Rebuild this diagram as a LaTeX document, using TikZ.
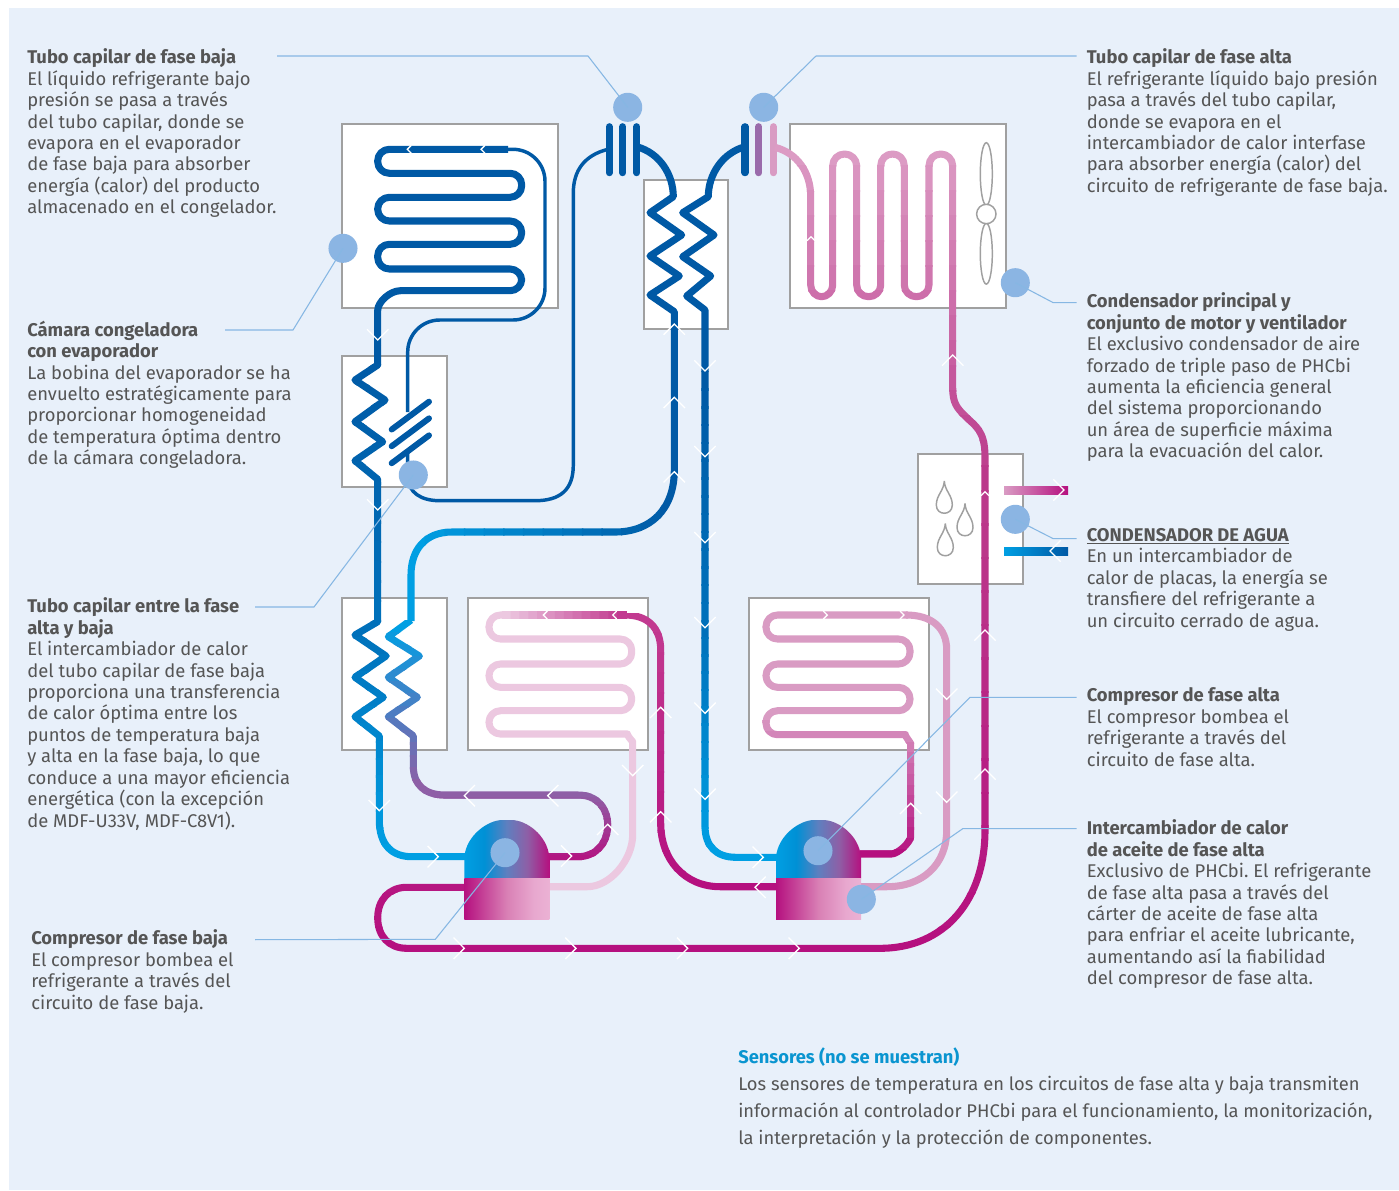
\documentclass[tikz,border=0pt]{standalone}
\usepackage{fontspec}
\setmainfont{Fira Sans}
\usetikzlibrary{calc}

\definecolor{bgblue}{HTML}{E8F0FA}
\definecolor{boxgray}{HTML}{A0A0A0}
\definecolor{txtgray}{HTML}{555555}
\definecolor{dotblue}{HTML}{8BB5E3}
\definecolor{leadblue}{HTML}{86B7E3}
\definecolor{darkblue}{HTML}{0059A5}
\definecolor{midblue}{HTML}{0070BA}
\definecolor{cyanblue}{HTML}{009FE3}
\definecolor{domeb}{HTML}{0090D5}
\definecolor{domem}{HTML}{5F7FBF}
\definecolor{purp}{HTML}{8E5FA6}
\definecolor{barpurp}{HTML}{9A6BAB}
\definecolor{magen}{HTML}{B5107F}
\definecolor{magmid}{HTML}{C23A90}
\definecolor{magcond}{HTML}{BB3A8B}
\definecolor{pinkmid}{HTML}{D99BC3}
\definecolor{pinktop}{HTML}{DC9BC4}
\definecolor{pinkpale}{HTML}{ECC8E0}
\definecolor{sumpa}{HTML}{D980B5}
\definecolor{sumpb}{HTML}{E8A8CF}
\definecolor{sumpc}{HTML}{EBB2D4}
\definecolor{headblue}{HTML}{0A95D0}

\pgfdeclarehorizontalshading{domeshade}{100bp}{color(0bp)=(cyanblue); color(25bp)=(cyanblue);
 color(37bp)=(domeb); color(50bp)=(domem); color(62bp)=(purp); color(75bp)=(magen); color(100bp)=(magen)}
\pgfdeclarehorizontalshading{sumpshade}{100bp}{color(0bp)=(magen); color(25bp)=(magen);
 color(50bp)=(sumpa); color(66bp)=(sumpb); color(75bp)=(sumpc); color(100bp)=(sumpc)}

\tikzset{
  pipe/.style={line width=5.3pt,line join=round},
  thinpipe/.style={line width=2.6pt,line join=round,darkblue},
  capbar/.style={line width=5.3pt,line cap=round},
  unitbox/.style={draw=boxgray,fill=white,line width=1.5pt},
  fanline/.style={draw=boxgray,line width=1.1pt},
  chevron/.style={draw=white,line width=1pt},
  dotmark/.style={circle,fill=dotblue,minimum size=21.8pt,inner sep=0pt},
  leader/.style={draw=leadblue,line width=0.8pt},
  txtblock/.style={anchor=north west,inner sep=0pt,align=left,text=txtgray,
    font=\fontsize{13.8}{16.08}\selectfont\frenchspacing},
}

\newcommand{\vpipe}[6][pipe]{%
\foreach \i in {1,...,14}{%
\pgfmathsetmacro{\m}{100-100*(\i-1)/13}
\begin{scope}
\clip (0,{#2+(#3-#2)*(\i-1)/14}) rectangle (1399,{#2+(#3-#2)*\i/14+1.5});
\draw[#1,#4!\m!#5] #6;
\end{scope}}}
\newcommand{\hpipe}[6][pipe]{%
\foreach \i in {1,...,14}{%
\pgfmathsetmacro{\m}{100-100*(\i-1)/13}
\begin{scope}
\clip ({#2+(#3-#2)*(\i-1)/14},0) rectangle ({#2+(#3-#2)*\i/14+1.5},1190);
\draw[#1,#4!\m!#5] #6;
\end{scope}}}
\newcommand{\chev}[4][10.7]{%
\draw[chevron,shift={(#2,#3)},rotate=#4] (-#1,-#1) -- (0,0) -- (-#1,#1);
}
\newcommand{\drawdrop}[2]{%
\draw[fanline,shift={(#1,#2)}] (0,0) .. controls (0.5,10) and (8,14) .. (8,24) .. controls (8,35) and (-8,35) .. (-8,24) .. controls (-8,14) and (-0.5,10) .. (0,0);
}
\newcommand{\compbody}[1]{%
\shade[shading=domeshade,shift={(#1,0)}] (0,878.3) -- (0,857) .. controls (2,835) and (24,820) .. (38,820) -- (47,820) .. controls (62,820) and (83,835) .. (85,857) -- (85,878.3) -- cycle;
\shade[shading=sumpshade,shift={(#1,0)}] (0,878.3) rectangle (85,919);
}

\begin{document}
\begin{tikzpicture}[x=0.75pt,y=-0.75pt]
\useasboundingbox (0,0) rectangle (1399,1190);
\fill[bgblue] (9,8) rectangle (1399,1190);

% units
\draw[unitbox] (342.3,124.3) rectangle (558.3,308);
\draw[unitbox] (342.3,356) rectangle (447.3,486.7);
\draw[unitbox] (644,180) rectangle (728.3,328.7);
\draw[unitbox] (790.3,124.3) rectangle (1006,308);
\draw[unitbox] (918.3,454) rectangle (1023.3,584.3);
\draw[unitbox] (342.3,598.3) rectangle (447.3,750);
\draw[unitbox] (468,598.3) rectangle (648.3,750);
\draw[unitbox] (749.3,598.3) rectangle (929.3,750);

% fan
\draw[fanline] (986.3,174) ellipse [x radius=6,y radius=31.3];
\draw[fanline] (986.3,253.7) ellipse [x radius=6,y radius=30.4];
\draw[fanline,fill=white] (986.3,214) circle [radius=9.7];

% drops
\drawdrop{944.3}{481}
\drawdrop{965}{503.5}
\drawdrop{945.3}{523.5}

% water connections
\shade[left color=pinkmid,right color=magen] (1004,486) rectangle (1068,494.7);
\shade[left color=cyanblue,right color=darkblue] (1004,547) rectangle (1068,555.7);

% low stage evaporator, thin capillary
\draw[thinpipe,rounded corners=24pt] (505,149.3) -- (545,149.3) -- (545,320) -- (407.7,320) -- (407.7,412);
\draw[thinpipe] (407.7,450) -- (407.7,478) .. controls (409,492) and (420,500.7) .. (440,500.7) -- (535,500.7) .. controls (560,500.7) and (573.3,490) .. (573.3,465) -- (573.3,193) .. controls (573.3,170) and (585,155) .. (608,149.3);

% low stage evaporator coil
\draw[pipe,darkblue,rounded corners=8.7pt] (508,149.3) -- (377.7,149.3) -- (377.7,173.3) -- (521.7,173.3) -- (521.7,197.3) -- (377.7,197.3) -- (377.7,221) -- (521.7,221) -- (521.7,244.3) -- (377.7,244.3) -- (377.7,269) -- (521.7,269) -- (521.7,290.7) -- (412,290.7) .. controls (390,290.7) and (377.7,302) .. (377.7,322) -- (377.7,345);

% down the two left exchangers
\def\leftpath{(377.7,344) -- (377.7,365) -- (355,380) -- (385,400) -- (355,421.7) -- (382.7,441.7) -- (355,460.7) -- (377.7,479.3) -- (377.7,621.7) -- (355,635) -- (386,656) -- (355,677.3) -- (383.3,697.3) -- (355,716.7) -- (379.3,736) -- (379.3,820) .. controls (379.3,845) and (392,856.7) .. (412,856.7) -- (466,856.7)}
\vpipe{345}{620}{darkblue}{midblue}{\leftpath}
\vpipe{620}{862}{midblue}{cyanblue}{\leftpath}

% capillary plates
\foreach \py in {0,16.7,33.7}{
\draw[capbar,line width=4.5pt,darkblue] (391.7,429.5+\py) -- (429,401.7+\py);
}

% capillary bars
\foreach \px in {609.3,622.7,636.7,745}{
\draw[capbar,darkblue] (\px,126.7) -- (\px,172.7);
}
\draw[capbar,barpurp] (758.7,126.7) -- (758.7,172.7);
\draw[capbar,pinkmid] (773.3,126.7) -- (773.3,172.7);

% upper exchanger, left run
\draw[pipe,darkblue] (636.7,146.7) .. controls (660,153) and (673.3,175) .. (673.3,196.7) -- (650,212.7) -- (681.7,235) -- (650,256) -- (679.3,276) -- (650,295) -- (674.3,311.7) -- (674.3,400);
\hpipe{405}{680}{cyanblue}{darkblue}{(674.3,399) -- (674.3,470) .. controls (674.3,510) and (650,532) .. (615,532) -- (452,532) .. controls (425,532) and (411,550) .. (411,575) -- (411,621)}

% upper exchanger, right run
\draw[pipe,darkblue] (745,146.7) .. controls (722,153) and (708.3,175) .. (708.3,196.7) -- (682.7,212.7) -- (714,235) -- (682.7,256.7) -- (710.7,276) -- (686.7,296) -- (705,310) -- (705,372);
\def\rightrun{(705,371) -- (705,826) .. controls (705,846) and (716,857.3) .. (736,857.3) -- (778,857.3)}
\vpipe{371}{620}{darkblue}{midblue}{\rightrun}
\vpipe{620}{862}{midblue}{cyanblue}{\rightrun}

% low stage return, cyan to purple
\def\purplepath{(411,620) -- (388.3,636.7) -- (419.3,656) -- (388.3,677.3) -- (417.3,697.3) -- (388.3,716.7) -- (413.3,736) -- (413.3,766) .. controls (413.3,785) and (425,795) .. (445,795) -- (578,795) .. controls (597,795) and (607.7,808) .. (607.7,825) .. controls (607.7,843) and (596,856.7) .. (578,856.7) -- (547,856.7)}
\vpipe{620}{792}{cyanblue}{purp}{\purplepath}
\vpipe{792}{866}{purp}{magen}{\purplepath}

% low stage pale coil
\draw[pipe,pinkpale,rounded corners=8.6pt] (503,615) -- (489,615) -- (489,639) -- (631.7,639) -- (631.7,664) -- (489,664) -- (489,687.3) -- (631.7,687.3) -- (631.7,710.7) -- (489,710.7) -- (489,734) -- (616,734) .. controls (626,734) and (632.7,742) .. (632.7,753) -- (632.7,823) .. controls (632.7,860) and (610,886.7) .. (576,886.7) -- (547,886.7);

% low stage coil inlet
\hpipe{501.7}{626}{pinkpale}{magmid}{(501.7,615) -- (627,615)}
\vpipe{613}{890}{magmid}{magen}{(625,615) .. controls (648,615) and (660.7,628) .. (660.7,650) -- (660.7,823) .. controls (660.7,860) and (685,886.7) .. (720,886.7) -- (778,886.7)}

% high stage coil
\draw[pipe,pinkmid,rounded corners=8.6pt] (908,615) -- (766,615) -- (766,639) -- (910,639) -- (910,664) -- (766,664) -- (766,687.3) -- (910,687.3) -- (910,710.7) -- (766,710.7) -- (766,722);
\vpipe{710}{860}{pinkmid}{magen}{[rounded corners=8.6pt] (766,720) -- (766,734.7) -- (894,734.7) .. controls (904,734.7) and (910.7,743) .. (910.7,755) -- (910.7,825) .. controls (910.7,842) and (898,854) .. (880,854) -- (860,854)}
\draw[pipe,pinkmid] (906,615) .. controls (932,615) and (946.7,628) .. (946.7,650) -- (946.7,830) .. controls (946.7,865) and (922,886.7) .. (887,886.7) -- (859,886.7);

% high stage discharge and condenser
\def\condpath{(466,887.3) -- (406.7,887.3) .. controls (389,887.3) and (377.7,900) .. (377.7,917.8) .. controls (377.7,936) and (389,948.3) .. (406.7,948.3) -- (880,948.3) .. controls (945,948.3) and (985,900) .. (985,830) -- (985,456.7) .. controls (985,430) and (975,426) .. (965,416) .. controls (957,408) and (952.7,403) .. (952.7,388) -- (952.7,166) .. controls (952.7,159) and (947,154) .. (941,154) .. controls (934,154) and (929,159) .. (929,166) -- (929,285) .. controls (929,292) and (923,296.7) .. (916.5,296.7) .. controls (910,296.7) and (904.3,292) .. (904.3,285) -- (904.3,166) .. controls (904.3,159) and (899,154) .. (892.5,154) .. controls (886,154) and (880.7,159) .. (880.7,166) -- (880.7,285) .. controls (880.7,292) and (875,296.7) .. (868.7,296.7) .. controls (862,296.7) and (856.7,292) .. (856.7,285) -- (856.7,166) .. controls (856.7,159) and (851,154) .. (844.7,154) .. controls (838,154) and (832.7,159) .. (832.7,166) -- (832.7,285) .. controls (832.7,292) and (827,296.7) .. (821.7,296.7) .. controls (816,296.7) and (810.7,292) .. (810.7,285) -- (810.7,196.7) .. controls (810.7,172) and (797,153) .. (775,147.3)}
\vpipe{140}{490}{pinktop}{magcond}{\condpath}
\vpipe{490}{960}{magcond}{magen}{\condpath}

% compressors
\compbody{464.3}
\compbody{776}

% flow marks
\foreach \px/\py/\ang in {377.7/340/270,377.7/510/270,705/371/270,705/456.7/270,705/542.7/270,705/627.7/270,705/713.3/270,705/799.3/270,
674.3/324/90,674.3/397.3/90,674.3/471.7/90,952.7/355/90,985/630/90,985/769/90,660.7/707.3/90,660.7/811.7/90,910.7/803.3/90,
946.7/699.3/270,946.7/802.3/270,632.7/775.7/270,379.3/810.7/270,438.3/856.7/0,464.3/795.7/180,547.7/795.7/180,607.7/824.3/90,
571.7/856/0,464.3/948.3/0,576/948.3/0,687.7/948.3/0,799.3/948.3/0,763.3/857.3/0,755/887.3/180,1064/490/0,1050/551/180}{
\chev{\px}{\py}{\ang}
}
\foreach \px/\py/\ang in {811/236.7/90,985/491.7/90,543.3/615/180,612.7/615/180,827.3/615/0,904/615/0,407.3/149.3/180,481/149.3/180}{
\chev[4]{\px}{\py}{\ang}
}

% marks
\node[dotmark] (dcapbaja) at (627.7,107.3) {};
\node[dotmark] (dcapalta) at (763.7,107.3) {};
\node[dotmark] (dcamara) at (343,248.3) {};
\node[dotmark] (dcapentre) at (413.3,475) {};
\node[dotmark] (dcondens) at (1015.3,282.7) {};
\node[dotmark] (dagua) at (1015.3,519.3) {};
\node[dotmark] (dcompbaja) at (505,852.7) {};
\node[dotmark] (dcompalta) at (818,850.7) {};
\node[dotmark] (daceite) at (861.3,899.3) {};

% leader lines
\coordinate (lcapbaja) at (277,56);
\coordinate (lcapalta) at (1076.7,56);
\coordinate (lcamara) at (225,330);
\coordinate (lcapentre) at (255,607);
\coordinate (lcondens) at (1076.7,302.7);
\coordinate (lagua) at (1076.7,538.7);
\coordinate (lcompbaja) at (255,939.7);
\coordinate (lcompalta) at (1076.7,697.3);
\coordinate (laceite) at (1076.7,828.7);
\draw[leader] (lcapbaja) -- (588,56) -- (dcapbaja.center);
\draw[leader] (lcapalta) -- (816,56) -- (dcapalta.center);
\draw[leader] (lcamara) -- (293,330) -- (dcamara.center);
\draw[leader] (lcapentre) -- (314,607) -- (dcapentre.center);
\draw[leader] (lcondens) -- (1053.3,302.7) -- (dcondens.center);
\draw[leader] (lagua) -- (1053.3,538.7) -- (dagua.center);
\draw[leader] (lcompbaja) -- (435.3,939.3) -- (dcompbaja.center);
\draw[leader] (lcompalta) -- (970,697.3) -- (dcompalta.center);
\draw[leader] (laceite) -- (962.7,828.7) -- (daceite.center);

% texts
\node[txtblock] (tcapbaja) at (27,48.5) {\textbf{Tubo capilar de fase baja}\\El líquido refrigerante bajo\\presión se pasa a través\\del tubo capilar, donde se\\evapora en el evaporador\\de fase baja para absorber\\energía (calor) del producto\\almacenado en el congelador.};
\node[txtblock] (tcamara) at (27,320.5) {\textbf{Cámara congeladora}\\\textbf{con evaporador}\\La bobina del evaporador se ha\\envuelto estratégicamente para\\proporcionar homogeneidad\\de temperatura óptima dentro\\de la cámara congeladora.};
\node[txtblock] (tcapentre) at (27,597.5) {\textbf{Tubo capilar entre la fase}\\\textbf{alta y baja}\\El intercambiador de calor\\del tubo capilar de fase baja\\proporciona una transferencia\\de calor óptima entre los\\puntos de temperatura baja\\y alta en la fase baja, lo que\\conduce a una mayor eficiencia\\energética (con la excepción\\de MDF-U33V, MDF-C8V1).};
\node[txtblock] (tcompbaja) at (31,929.5) {\textbf{Compresor de fase baja}\\El compresor bombea el\\refrigerante a través del\\circuito de fase baja.};
\node[txtblock] (tcapalta) at (1086.5,48.5) {\textbf{Tubo capilar de fase alta}\\El refrigerante líquido bajo presión\\pasa a través del tubo capilar,\\donde se evapora en el\\intercambiador de calor interfase\\para absorber energía (calor) del\\circuito de refrigerante de fase baja.};
\node[txtblock] (tcondens) at (1086.5,292.5) {\textbf{Condensador principal y}\\\textbf{conjunto de motor y ventilador}\\El exclusivo condensador de aire\\forzado de triple paso de PHCbi\\aumenta la eficiencia general\\del sistema proporcionando\\un área de superficie máxima\\para la evacuación del calor.};
\node[txtblock] (tagua) at (1086.5,528) {\underline{\textbf{CONDENSADOR DE AGUA}}\\En un intercambiador de\\calor de placas, la energía se\\transfiere del refrigerante a\\un circuito cerrado de agua.};
\node[txtblock] (tcompalta) at (1086.5,687.5) {\textbf{Compresor de fase alta}\\El compresor bombea el\\refrigerante a través del\\circuito de fase alta.};
\node[txtblock] (taceite) at (1086.5,819.5) {\textbf{Intercambiador de calor}\\\textbf{de aceite de fase alta}\\Exclusivo de PHCbi. El refrigerante\\de fase alta pasa a través del\\cárter de aceite de fase alta\\para enfriar el aceite lubricante,\\aumentando así la fiabilidad\\del compresor de fase alta.};
\node[txtblock,font=\fontsize{13.75}{20.25}\selectfont\frenchspacing] (tsensores) at (738,1047.5) {\textbf{\textcolor{headblue}{Sensores (no se muestran)}}\\Los sensores de temperatura en los circuitos de fase alta y baja transmiten\\información al controlador PHCbi para el funcionamiento, la monitorización,\\la interpretación y la protección de componentes.};

\end{tikzpicture}
\end{document}
